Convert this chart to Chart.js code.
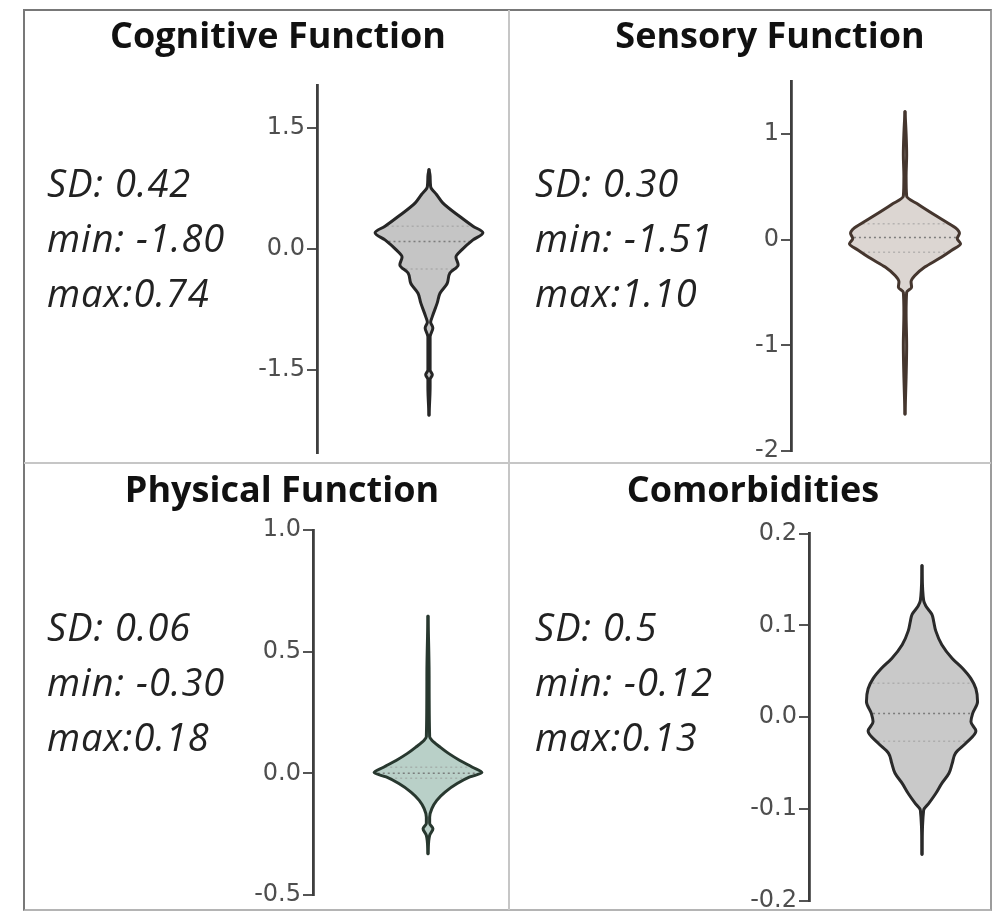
<!DOCTYPE html>
<html>
<head>
<meta charset="utf-8">
<title>Violin plots</title>
<script src="https://cdn.jsdelivr.net/npm/chart.js@4.4.1/dist/chart.umd.min.js"></script>
<style>
  html, body { margin: 0; padding: 0; background: #fff; }
  #figure { position: relative; width: 1002px; height: 913px; overflow: hidden; background: #fff; }
  .frame { position: absolute; left: 23px; top: 9px; width: 969px; height: 902px; box-sizing: border-box;
           border: 2px solid #787878; border-right-color: #9c9c9c; border-bottom-color: #b4b4b4; }
  .vdiv { position: absolute; left: 508px; top: 10px; width: 2px; height: 900px; background: #c6c6c6; }
  .hdiv { position: absolute; left: 24px; top: 462px; width: 967px; height: 2px; background: #c6c6c6; }
  .plot { position: absolute; }
  .plot canvas { display: block; }
  .title { position: absolute; width: 480px; text-align: center; white-space: nowrap;
           font: 700 36px "Open Sans", sans-serif; line-height: 36px; color: #111; z-index: 2; }
  .stats { position: absolute; white-space: nowrap; font: italic 400 38px "Open Sans", sans-serif;
           letter-spacing: 1px; line-height: 55px; color: #222; z-index: 2; }
</style>
</head>
<body>
<div id="figure">
  <div class="frame"></div>
  <div class="vdiv"></div>
  <div class="hdiv"></div>
</div>
<script>
// ---- panel titles and summary statistics ----
const titles = ['Cognitive Function', 'Sensory Function', 'Physical Function', 'Comorbidities'];
const cognitiveStats = ['SD: 0.42', 'min: -1.80', 'max:0.74'];
const sensoryStats = ['SD: 0.30', 'min: -1.51', 'max:1.10'];
const physicalStats = ['SD: 0.06', 'min: -0.30', 'max:0.18'];
const comorbidityStats = ['SD: 0.5', 'min: -0.12', 'max:0.13'];

// ---- violin outlines: score levels (top to bottom) and kernel density at each level ----
const cognitiveLevels = [0.98, 0.90, 0.77, 0.67, 0.57, 0.40, 0.28, 0.20, 0.11, -0.01, -0.10, -0.20, -0.30, -0.43,
  -0.55, -0.67, -0.84, -0.91, -0.98, -1.09, -1.29, -1.50, -1.56, -1.62, -1.71, -2.06];
const cognitiveDensity = [0.00, 0.02, 0.03, 0.14, 0.25, 0.56, 0.80, 0.98, 0.80, 0.60, 0.49, 0.53, 0.38, 0.33,
  0.20, 0.15, 0.06, 0.03, 0.07, 0.02, 0.02, 0.02, 0.06, 0.02, 0.02, 0.00];
const cognitiveQuartiles = [-0.25, 0.09, 0.28];

const sensoryLevels = [1.21, 1.00, 0.80, 0.60, 0.41, 0.33, 0.23, 0.15, 0.11, 0.06, 0.01, -0.04, -0.10, -0.18,
  -0.26, -0.34, -0.40, -0.45, -0.50, -0.70, -1.00, -1.30, -1.65];
const sensoryDensity = [0.00, 0.02, 0.03, 0.02, 0.03, 0.25, 0.55, 0.80, 0.92, 0.99, 0.95, 1.01, 0.85, 0.62,
  0.36, 0.18, 0.11, 0.12, 0.03, 0.02, 0.03, 0.02, 0.00];
const sensoryQuartiles = [-0.12, 0.02, 0.15];

const physicalLevels = [0.646, 0.40, 0.15, 0.136, 0.108, 0.081, 0.053, 0.026, 0.003, -0.015, -0.042, -0.077,
  -0.111, -0.145, -0.18, -0.205, -0.228, -0.255, -0.33];
const physicalDensity = [0.00, 0.02, 0.03, 0.07, 0.22, 0.38, 0.58, 0.80, 0.98, 0.76, 0.53, 0.31,
  0.16, 0.07, 0.03, 0.03, 0.09, 0.03, 0.00];
const physicalQuartiles = [-0.02, 0.0, 0.025];

const comorbidityLevels = [0.165, 0.127, 0.121, 0.112, 0.105, 0.094, 0.079, 0.064, 0.053, 0.042, 0.031, 0.017,
  0.004, -0.005, -0.015, -0.028, -0.039, -0.050, -0.061, -0.072, -0.083, -0.094, -0.101, -0.149];
const comorbidityDensity = [0.00, 0.03, 0.07, 0.18, 0.21, 0.25, 0.36, 0.55, 0.74, 0.89, 0.98, 1.01,
  0.92, 0.89, 0.98, 0.80, 0.61, 0.55, 0.49, 0.36, 0.25, 0.12, 0.03, 0.00];
const comorbidityQuartiles = [-0.026, 0.004, 0.037];

// ---- axis ticks ----
const cognitiveTicks = [1.5, 0, -1.5];
const cognitiveTickLabels = ['1.5', '0.0', '-1.5'];
const sensoryTicks = [1, 0, -1, -2];
const sensoryTickLabels = ['1', '0', '-1', '-2'];
const physicalTicks = [1.0, 0.5, 0, -0.5];
const physicalTickLabels = ['1.0', '0.5', '0.0', '-0.5'];
const comorbidityTicks = [0.2, 0.1, 0, -0.1, -0.2];
const comorbidityTickLabels = ['0.2', '0.1', '0.0', '-0.1', '-0.2'];

// ---- layout of the four cells (page pixels) ----
const DENSITY_PX = 55;   // half-width in pixels of a violin at density 1
const AXIS_W = 75;       // reserved width of each y axis (labels + tick marks)
const panels = [
  { title: titles[0], stats: cognitiveStats, levels: cognitiveLevels, density: cognitiveDensity,
    quartiles: cognitiveQuartiles, ticks: cognitiveTicks, tickLabels: cognitiveTickLabels,
    yMin: -2.53, yMax: 2.03,
    box: { left: 25, top: 11, right: 508, bottom: 462 }, axisX: 317, axisTop: 85, axisBottom: 453, center: 429,
    titleX: 278, titleBase: 49, statsX: 47, statsBase: 197,
    fill: '#c5c5c5', line: '#262626' },
  { title: titles[1], stats: sensoryStats, levels: sensoryLevels, density: sensoryDensity,
    quartiles: sensoryQuartiles, ticks: sensoryTicks, tickLabels: sensoryTickLabels,
    yMin: -2, yMax: 1.5,
    box: { left: 510, top: 11, right: 990, bottom: 462 }, axisX: 791, axisTop: 81, axisBottom: 451, center: 905,
    titleX: 770, titleBase: 49, statsX: 535, statsBase: 197,
    fill: '#dcd6d2', line: '#45362e' },
  { title: titles[2], stats: physicalStats, levels: physicalLevels, density: physicalDensity,
    quartiles: physicalQuartiles, ticks: physicalTicks, tickLabels: physicalTickLabels,
    yMin: -0.5, yMax: 1.0,
    box: { left: 25, top: 464, right: 508, bottom: 909 }, axisX: 313, axisTop: 530, axisBottom: 895, center: 428,
    titleX: 282, titleBase: 503, statsX: 47, statsBase: 641,
    fill: '#b9d0c8', line: '#28382f' },
  { title: titles[3], stats: comorbidityStats, levels: comorbidityLevels, density: comorbidityDensity,
    quartiles: comorbidityQuartiles, ticks: comorbidityTicks, tickLabels: comorbidityTickLabels,
    yMin: -0.2, yMax: 0.2,
    box: { left: 510, top: 464, right: 990, bottom: 909 }, axisX: 809, axisTop: 533.5, axisBottom: 901, center: 922,
    titleX: 753, titleBase: 503, statsX: 535, statsBase: 641,
    fill: '#c9c9c9', line: '#2a2a2a' }
];

// density of the outline at a given level (linear between outline points)
function densityAt(levels, density, v) {
  for (let i = 0; i < levels.length - 1; i++) {
    const a = levels[i], b = levels[i + 1];
    if ((v <= a && v >= b) || (v >= a && v <= b)) {
      const t = (v - a) / (b - a);
      return density[i] + t * (density[i + 1] - density[i]);
    }
  }
  return 0;
}

const figure = document.getElementById('figure');

panels.forEach((p) => {
  // title
  const t = document.createElement('div');
  t.className = 'title';
  t.textContent = p.title;
  t.style.left = (p.titleX - 240) + 'px';
  t.style.top = (p.titleBase - 32) + 'px';
  figure.appendChild(t);

  // summary statistics
  const s = document.createElement('div');
  s.className = 'stats';
  s.style.left = p.statsX + 'px';
  s.style.top = (p.statsBase - 42) + 'px';
  p.stats.forEach((line) => {
    const d = document.createElement('div');
    d.textContent = line;
    s.appendChild(d);
  });
  figure.appendChild(s);

  // chart canvas covering the cell
  const w = p.box.right - p.box.left;
  const h = p.box.bottom - p.box.top;
  const holder = document.createElement('div');
  holder.className = 'plot';
  holder.style.left = p.box.left + 'px';
  holder.style.top = p.box.top + 'px';
  holder.style.width = w + 'px';
  holder.style.height = h + 'px';
  const canvas = document.createElement('canvas');
  canvas.width = w; canvas.height = h;
  canvas.style.width = w + 'px'; canvas.style.height = h + 'px';
  holder.appendChild(canvas);
  figure.appendChild(holder);

  const leftSide = p.levels.map((y, i) => ({ x: -p.density[i], y }));
  const rightSide = p.levels.map((y, i) => ({ x: p.density[i], y }));
  const quartileSets = p.quartiles.map((q, k) => {
    const half = Math.max(densityAt(p.levels, p.density, q) - 0.03, 0);
    return {
      data: [{ x: -half, y: q }, { x: half, y: q }],
      borderColor: k === 1 ? 'rgba(110,110,110,0.85)' : 'rgba(150,150,150,0.55)',
      borderWidth: 1.5,
      borderDash: [2, 3],
      pointRadius: 0,
      fill: false,
      tension: 0
    };
  });

  const xMin = -(p.center - p.axisX) / DENSITY_PX;
  const xMax = (p.box.right - p.center) / DENSITY_PX;

  new Chart(canvas, {
    type: 'line',
    data: {
      datasets: [
        { data: leftSide, borderColor: p.line, backgroundColor: p.fill, borderWidth: 3,
          pointRadius: 0, fill: '+1', cubicInterpolationMode: 'monotone',
          borderJoinStyle: 'round', borderCapStyle: 'round' },
        { data: rightSide, borderColor: p.line, backgroundColor: p.fill, borderWidth: 3,
          pointRadius: 0, fill: false, cubicInterpolationMode: 'monotone',
          borderJoinStyle: 'round', borderCapStyle: 'round' },
        ...quartileSets
      ]
    },
    options: {
      indexAxis: 'y',
      responsive: false,
      animation: false,
      events: [],
      layout: {
        padding: {
          left: p.axisX - p.box.left - AXIS_W,
          right: 0,
          top: p.axisTop - p.box.top,
          bottom: p.box.bottom - p.axisBottom
        }
      },
      plugins: {
        legend: { display: false },
        tooltip: { enabled: false },
        filler: { drawTime: 'beforeDatasetsDraw' }
      },
      scales: {
        x: { type: 'linear', display: false, min: xMin, max: xMax },
        y: {
          type: 'linear',
          position: 'left',
          min: p.yMin,
          max: p.yMax,
          afterFit: (scale) => {
            scale.width = AXIS_W;
            scale.paddingTop = 0;
            scale.paddingBottom = 0;
          },
          afterBuildTicks: (scale) => {
            scale.ticks = p.ticks.map((v) => ({ value: v }));
          },
          ticks: {
            autoSkip: false,
            padding: 2,
            color: '#4e4e4e',
            font: { family: 'DejaVu Sans', size: 24 },
            callback: (value, index) => p.tickLabels[index]
          },
          grid: {
            drawOnChartArea: false,
            drawTicks: true,
            tickLength: 10,
            color: '#555',
            lineWidth: 2
          },
          border: { display: true, color: '#3e3e3e', width: 2.8 }
        }
      }
    }
  });
});
</script>
</body>
</html>
